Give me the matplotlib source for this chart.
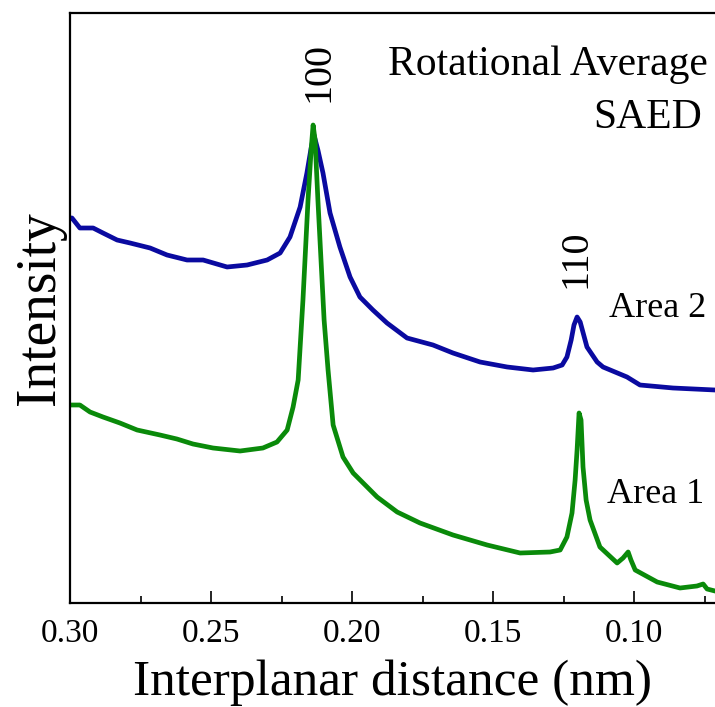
import matplotlib
matplotlib.use('Agg')
import matplotlib.pyplot as plt
from matplotlib.ticker import MultipleLocator

plt.rcParams['font.family'] = ['Liberation Serif', 'DejaVu Serif']

# d-spacing (nm) and intensity (a.u.)
area2_d = [0.3000, 0.2993, 0.2965, 0.2918, 0.2883, 0.2833, 0.2787, 0.2716, 0.2656,
           0.2585, 0.2528, 0.2443, 0.2372, 0.2301, 0.2255, 0.2220, 0.2184, 0.2160,
           0.2145, 0.2135, 0.2121, 0.2103, 0.2078, 0.2043, 0.2007, 0.1972, 0.1926,
           0.1876, 0.1805, 0.1713, 0.1642, 0.1546, 0.1450, 0.1358, 0.1287, 0.1255,
           0.1238, 0.1223, 0.1213, 0.1202, 0.1191, 0.1167, 0.1131, 0.1110, 0.1025,
           0.0979, 0.0862, 0.0713]
area2_i = [385, 385, 375, 375, 370, 363, 360, 355, 348,
           343, 343, 336, 338, 343, 350, 366, 396, 430,
           455, 468, 453, 430, 390, 356, 326, 306, 293,
           280, 265, 258, 250, 241, 236, 233, 235, 238,
           246, 263, 278, 286, 281, 256, 241, 236, 226,
           218, 215, 213]

area1_d = [0.3000, 0.2993, 0.2965, 0.2929, 0.2883, 0.2823, 0.2762, 0.2681, 0.2621,
           0.2564, 0.2493, 0.2397, 0.2316, 0.2266, 0.2230, 0.2209, 0.2191, 0.2174,
           0.2156, 0.2145, 0.2138, 0.2131, 0.2121, 0.2110, 0.2099, 0.2085, 0.2067,
           0.2032, 0.1996, 0.1911, 0.1840, 0.1759, 0.1642, 0.1521, 0.1404, 0.1298,
           0.1262, 0.1238, 0.1220, 0.1209, 0.1202, 0.1195, 0.1188, 0.1181, 0.1170,
           0.1156, 0.1121, 0.1060, 0.1039, 0.1021, 0.1011, 0.0996, 0.0918, 0.0837,
           0.0777, 0.0755, 0.0741, 0.0713]
area1_i = [198, 198, 198, 191, 186, 180, 173, 168, 164,
           159, 155, 152, 155, 161, 173, 196, 223, 303,
           403, 453, 478, 463, 403, 343, 283, 233, 178,
           146, 130, 106, 91, 80, 68, 58, 50, 51,
           53, 66, 90, 123, 153, 190, 183, 136, 103,
           83, 56, 40, 45, 51, 43, 33, 21, 15,
           17, 19, 14, 12]

blue = '#0a0aa0'
green = '#0a8a0a'

fig = plt.figure(figsize=(7.15, 7.07), dpi=100)
ax = fig.add_axes([70 / 715, 104 / 707, 645 / 715, 590 / 707])

ax.plot(area2_d, area2_i, color=blue, lw=3.4, solid_joinstyle='round')
ax.plot(area1_d, area1_i, color=green, lw=3.4, solid_joinstyle='round')

ax.set_xlim(0.30, 0.0713)
ax.set_ylim(0, 590)
ax.xaxis.set_minor_locator(MultipleLocator(0.025))
ax.set_xticks([0.30, 0.25, 0.20, 0.15, 0.10])
ax.set_xticklabels(['0.30', '0.25', '0.20', '0.15', '0.10'])
ax.tick_params(axis='x', which='major', direction='in', length=9, width=1.2,
               labelsize=24, pad=11)
ax.tick_params(axis='x', which='minor', direction='in', length=5, width=1.2)
ax.tick_params(axis='y', left=False, labelleft=False)
ax.spines['right'].set_visible(False)
for s in ['left', 'bottom', 'top']:
    ax.spines[s].set_linewidth(1.6)

ax.set_xlabel('Interplanar distance (nm)', fontsize=37, labelpad=8)
ax.set_ylabel('Intensity', fontsize=40, labelpad=3)

ax.text(0.2117, 531, '100', rotation=90, ha='center', va='center', fontsize=29)
ax.text(0.1206, 344, '110', rotation=90, ha='center', va='center', fontsize=29)
ax.text(0.0738, 528, 'Rotational Average', ha='right', va='baseline', fontsize=30)
ax.text(0.0759, 475, 'SAED', ha='right', va='baseline', fontsize=30)
ax.text(0.1089, 286, 'Area 2', ha='left', va='baseline', fontsize=26)
ax.text(0.1096, 100, 'Area 1', ha='left', va='baseline', fontsize=26)

fig.savefig('out.png', dpi=100)
